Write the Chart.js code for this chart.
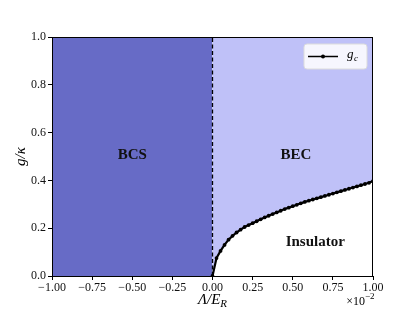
<!DOCTYPE html>
<html>
<head>
<meta charset="utf-8">
<script src="https://cdn.jsdelivr.net/npm/chart.js@4.4.0/dist/chart.umd.min.js"></script>
<style>
  html, body { margin: 0; padding: 0; background: #fff; }
  #wrap { width: 415px; height: 311px; }
</style>
</head>
<body>
<div id="wrap"><canvas id="phase"></canvas></div>
<script>
// Lambda / E_R in units of 1e-2, and the critical coupling g_c
const lambdaVals = [0, 0.025, 0.05, 0.075, 0.1, 0.125, 0.15, 0.175, 0.2, 0.225,
  0.25, 0.275, 0.3, 0.325, 0.35, 0.375, 0.4, 0.425, 0.45, 0.475,
  0.5, 0.525, 0.55, 0.575, 0.6, 0.625, 0.65, 0.675, 0.7, 0.725,
  0.75, 0.775, 0.8, 0.825, 0.85, 0.875, 0.9, 0.925, 0.95, 0.975, 1.0];
const gcVals = [0, 0.075, 0.105, 0.13, 0.152, 0.168, 0.182, 0.194, 0.205, 0.213,
  0.221, 0.229, 0.237, 0.245, 0.252, 0.259, 0.266, 0.273, 0.28, 0.286,
  0.292, 0.298, 0.304, 0.31, 0.315, 0.32, 0.325, 0.33, 0.335, 0.34,
  0.345, 0.35, 0.355, 0.36, 0.365, 0.37, 0.375, 0.38, 0.385, 0.39, 0.397];
const bcsRange = [-1, 0];
const regionNames = ['BCS', 'BEC', 'Insulator'];
const xTickStep = 0.25;
const yTickStep = 0.2;

const serif = '"Liberation Serif", "DejaVu Serif", serif';

const curve = lambdaVals.map((x, i) => ({ x: x, y: gcVals[i] }));
const becTop = lambdaVals.map(x => ({ x: x, y: 1 }));
const bcsTop = bcsRange.map(x => ({ x: x, y: 1 }));

const decorations = {
  id: 'decorations',
  afterDraw(chart) {
    const ctx = chart.ctx;
    const a = chart.chartArea;
    const xs = chart.scales.x, ys = chart.scales.y;
    ctx.save();

    // frame
    ctx.strokeStyle = '#000';
    ctx.lineWidth = 1;
    ctx.strokeRect(a.left + 0.5, a.top + 0.5, a.right - a.left - 1, a.bottom - a.top);

    // region labels
    ctx.fillStyle = '#111';
    ctx.font = 'bold 15px ' + serif;
    ctx.textAlign = 'center';
    ctx.textBaseline = 'middle';
    ctx.fillText(regionNames[0], xs.getPixelForValue(-0.5), ys.getPixelForValue(0.505));
    ctx.fillText(regionNames[1], xs.getPixelForValue(0.52), ys.getPixelForValue(0.505));
    ctx.fillText(regionNames[2], xs.getPixelForValue(0.64), ys.getPixelForValue(0.14));

    // legend
    const lx = 304, ly = 44, lw = 63, lh = 25;
    ctx.fillStyle = 'rgba(255,255,255,0.85)';
    ctx.strokeStyle = '#dcdcdc';
    ctx.beginPath();
    ctx.roundRect(lx, ly, lw, lh, 3);
    ctx.fill();
    ctx.stroke();
    ctx.strokeStyle = '#000';
    ctx.lineWidth = 1.5;
    ctx.beginPath();
    ctx.moveTo(308, 56.5);
    ctx.lineTo(338, 56.5);
    ctx.stroke();
    ctx.fillStyle = '#000';
    ctx.beginPath();
    ctx.arc(323, 56.5, 2, 0, Math.PI * 2);
    ctx.fill();
    ctx.textAlign = 'left';
    ctx.textBaseline = 'alphabetic';
    ctx.font = 'italic 13px ' + serif;
    ctx.fillText('g', 347, 58);
    ctx.font = 'italic 9px ' + serif;
    ctx.fillText('c', 354, 61);

    // axis titles
    ctx.font = 'italic 15px ' + serif;
    ctx.textAlign = 'left';
    const t1 = 'Λ/E';
    const w1 = ctx.measureText(t1).width;
    ctx.font = 'italic 11px ' + serif;
    const w2 = ctx.measureText('R').width;
    const x0 = xs.getPixelForValue(0) - (w1 + w2) / 2;
    ctx.font = 'italic 15px ' + serif;
    ctx.fillText(t1, x0, 304);
    ctx.font = 'italic 11px ' + serif;
    ctx.fillText('R', x0 + w1, 307);

    ctx.font = '12px ' + serif;
    ctx.textAlign = 'right';
    ctx.fillText('×10', a.right - 8, 305);
    ctx.font = '9px ' + serif;
    ctx.textAlign = 'left';
    ctx.fillText('−2', a.right - 8, 299);

    ctx.translate(21, (a.top + a.bottom) / 2);
    ctx.rotate(-Math.PI / 2);
    ctx.font = 'italic 15px ' + serif;
    ctx.textAlign = 'center';
    ctx.textBaseline = 'middle';
    ctx.fillText('g/κ', 0, 0);
    ctx.restore();
  }
};

new Chart(document.getElementById('phase'), {
  type: 'scatter',
  data: {
    datasets: [
      {
        label: 'g_c',
        data: curve,
        showLine: true,
        borderColor: '#000',
        backgroundColor: '#000',
        borderWidth: 2.2,
        pointRadius: 1.9,
        pointBorderWidth: 0,
        fill: false,
        order: 0
      },
      {
        label: 'BEC',
        data: becTop,
        showLine: true,
        borderWidth: 0,
        pointRadius: 0,
        backgroundColor: '#bfc1f8',
        fill: 0,
        order: 3
      },
      {
        label: 'BCS',
        data: bcsTop,
        showLine: true,
        borderWidth: 0,
        pointRadius: 0,
        backgroundColor: '#676bc6',
        fill: 'start',
        order: 2
      },
      {
        label: 'boundary',
        data: [{ x: 0, y: 0 }, { x: 0, y: 1 }],
        showLine: true,
        borderColor: '#000',
        borderWidth: 1.3,
        borderDash: [4, 2.5],
        pointRadius: 0,
        fill: false,
        order: 1
      }
    ]
  },
  options: {
    responsive: true,
    maintainAspectRatio: false,
    animation: false,
    layout: { padding: { left: 0, right: 42, top: 37, bottom: 0 } },
    plugins: {
      legend: { display: false },
      tooltip: { enabled: false }
    },
    scales: {
      x: {
        type: 'linear',
        min: -1,
        max: 1,
        afterFit: s => { s.height = 35; },
        border: { display: true, color: '#000', width: 1 },
        grid: { drawOnChartArea: false, drawTicks: true, tickLength: 4, color: '#000' },
        ticks: {
          stepSize: xTickStep,
          color: '#111',
          padding: 1,
          maxRotation: 0,
          font: { family: serif, size: 12 },
          callback: v => v.toFixed(2).replace('-', '−')
        }
      },
      y: {
        type: 'linear',
        min: 0,
        max: 1,
        afterFit: s => { s.width = 52; },
        border: { display: true, color: '#000', width: 1 },
        grid: { drawOnChartArea: false, drawTicks: true, tickLength: 4, color: '#000' },
        ticks: {
          stepSize: yTickStep,
          color: '#111',
          padding: 2,
          font: { family: serif, size: 12 },
          callback: v => v.toFixed(1)
        }
      }
    }
  },
  plugins: [decorations]
});
</script>
</body>
</html>
